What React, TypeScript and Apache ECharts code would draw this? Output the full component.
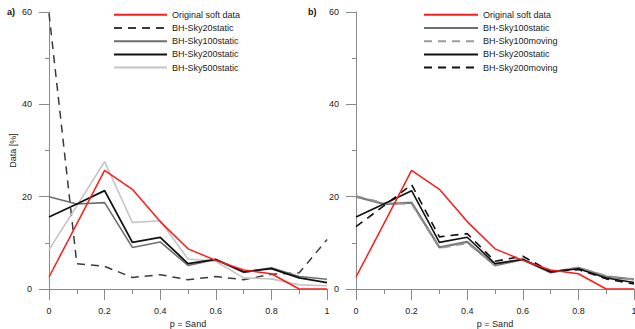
import React, { useEffect, useRef } from "react";
import * as echarts from "echarts";

const xs = [0, 0.1, 0.2, 0.3, 0.4, 0.5, 0.6, 0.7, 0.8, 0.9, 1];

// Panel a)
const originalSoft = [2.6, 14.1, 25.7, 21.6, 14.6, 8.7, 6.2, 4.1, 3.3, 0, 0];
const sky20static = [59.7, 5.5, 4.9, 2.5, 3.1, 2.0, 2.7, 2.0, 3.2, 3.5, 10.7];
const sky100static = [20.0, 18.4, 18.7, 9.0, 10.2, 5.1, 6.4, 3.6, 4.6, 2.7, 2.1];
const sky200static = [15.6, 18.4, 21.3, 10.1, 11.2, 5.5, 6.4, 3.7, 4.4, 2.4, 1.4];
const sky500static = [8.5, 18.0, 27.6, 14.4, 14.8, 6.5, 6.0, 2.4, 2.2, 0.9, 0.7];

// Panel b)
const sky100moving = [20.2, 18.6, 18.4, 8.8, 9.9, 5.2, 6.6, 3.6, 4.7, 2.9, 2.0];
const sky200moving = [13.5, 18.0, 22.6, 11.3, 12.0, 6.0, 7.1, 3.8, 4.2, 2.2, 1.1];

const xTicks = [0, 0.2, 0.4, 0.6, 0.8, 1];
const yTicks = [0, 20, 40, 60];

const FONT = "Liberation Sans, Arial, sans-serif";
const AXIS_COLOR = "#8a8a8a";

const pairs = (ys: number[]) => xs.map((x, i) => [x, ys[i]]);

export default function App() {
  const ref = useRef<HTMLDivElement>(null);
  useEffect(() => {
    if (!ref.current) return;
    const chart = echarts.init(ref.current, undefined, { renderer: "svg" });

    const makeX = (gridIndex: number) => ({
      type: "value",
      gridIndex,
      min: 0,
      max: 1,
      interval: 0.2,
      name: "p = Sand",
      nameLocation: "middle",
      nameGap: 28,
      nameTextStyle: { fontFamily: FONT, fontSize: 9, color: "#222" },
      axisLine: { show: true, onZero: false, lineStyle: { color: AXIS_COLOR, width: 1 } },
      axisTick: { show: true, inside: false, length: 11, lineStyle: { color: AXIS_COLOR } },
      minorTick: { show: true, splitNumber: 2, length: 5, lineStyle: { color: AXIS_COLOR } },
      splitLine: { show: false },
      minorSplitLine: { show: false },
      axisLabel: {
        margin: 17,
        fontFamily: FONT,
        fontSize: 9,
        color: "#222",
        formatter: (v: number) => {
          const t = xTicks.find((k) => Math.abs(k - v) < 1e-6);
          return t === undefined ? "" : String(t);
        },
      },
    });

    const makeY = (gridIndex: number, named: boolean) => ({
      type: "value",
      gridIndex,
      min: 0,
      max: 60,
      interval: 20,
      name: named ? "Data [%]" : "",
      nameLocation: "middle",
      nameGap: 32,
      nameTextStyle: { fontFamily: FONT, fontSize: 9, color: "#222" },
      axisLine: { show: true, lineStyle: { color: AXIS_COLOR, width: 1 } },
      axisTick: { show: true, inside: false, length: 10, lineStyle: { color: AXIS_COLOR } },
      minorTick: { show: true, splitNumber: 2, length: 4, lineStyle: { color: AXIS_COLOR } },
      splitLine: { show: false },
      minorSplitLine: { show: false },
      axisLabel: {
        margin: 17,
        fontFamily: FONT,
        fontSize: 9,
        color: "#222",
        formatter: (v: number) => (yTicks.includes(v) ? String(v) : ""),
      },
    });

    const line = (
      name: string,
      data: number[],
      idx: number,
      color: string,
      width: number,
      dashed: boolean,
      z = 2
    ) => ({
      type: "line",
      name,
      xAxisIndex: idx,
      yAxisIndex: idx,
      data: pairs(data),
      symbol: "none",
      showSymbol: false,
      z,
      lineStyle: { color, width, type: dashed ? [8, 6] : "solid" },
      itemStyle: { color },
    });

    const leftNames = [
      "Original soft data",
      "BH-Sky20static",
      "BH-Sky100static",
      "BH-Sky200static",
      "BH-Sky500static",
    ];
    const rightNames = [
      "Original soft data",
      "BH-Sky100static",
      "BH-Sky100moving",
      "BH-Sky200static",
      "BH-Sky200moving",
    ];

    const legendBase = {
      orient: "vertical",
      itemHeight: 10,
      itemGap: 3.2,
      top: 9.8,
      padding: 0,
      itemStyle: { opacity: 0, borderWidth: 0 },
      textStyle: { fontFamily: FONT, fontSize: 9, color: "#222", lineHeight: 10 },
      selectedMode: false,
    };

    chart.setOption({
      animation: false,
      backgroundColor: "#ffffff",
      grid: [
        { left: 49, top: 12, width: 278, height: 277, outerBoundsMode: "none", containLabel: false },
        { left: 356, top: 12, width: 278, height: 277, outerBoundsMode: "none", containLabel: false },
      ],
      xAxis: [makeX(0), makeX(1)],
      yAxis: [makeY(0, true), makeY(1, false)],
      legend: [
        { ...legendBase, left: 113, itemWidth: 53, data: leftNames },
        { ...legendBase, left: 423, itemWidth: 54, data: rightNames },
      ],
      graphic: [
        {
          type: "text",
          left: 7,
          top: 7,
          style: { text: "a)", fontFamily: FONT, fontSize: 9, fontWeight: "bold", fill: "#111" },
        },
        {
          type: "text",
          left: 308,
          top: 7,
          style: { text: "b)", fontFamily: FONT, fontSize: 9, fontWeight: "bold", fill: "#111" },
        },
      ],
      series: [
        line("BH-Sky20static", sky20static, 0, "#3a3a3a", 1.5, true),
        line("BH-Sky500static", sky500static, 0, "#c4c4c4", 1.6, false),
        line("BH-Sky100static", sky100static, 0, "#6e6e6e", 1.6, false),
        line("BH-Sky200static", sky200static, 0, "#111111", 1.8, false),
        line("Original soft data", originalSoft, 0, "#ff1a1a", 1.5, false, 3),
        line("BH-Sky100static", sky100static, 1, "#7a7a7a", 2.2, false),
        line("BH-Sky100moving", sky100moving, 1, "#9a9a9a", 1.6, true),
        line("BH-Sky200static", sky200static, 1, "#111111", 1.6, false),
        line("BH-Sky200moving", sky200moving, 1, "#111111", 1.6, true),
        line("Original soft data", originalSoft, 1, "#ff1a1a", 1.5, false, 3),
      ],
    });
    return () => chart.dispose();
  }, []);
  return (
    <div
      ref={ref}
      style={{ position: "fixed", left: 0, top: 0, width: 635, height: 329, background: "#fff" }}
    />
  );
}
